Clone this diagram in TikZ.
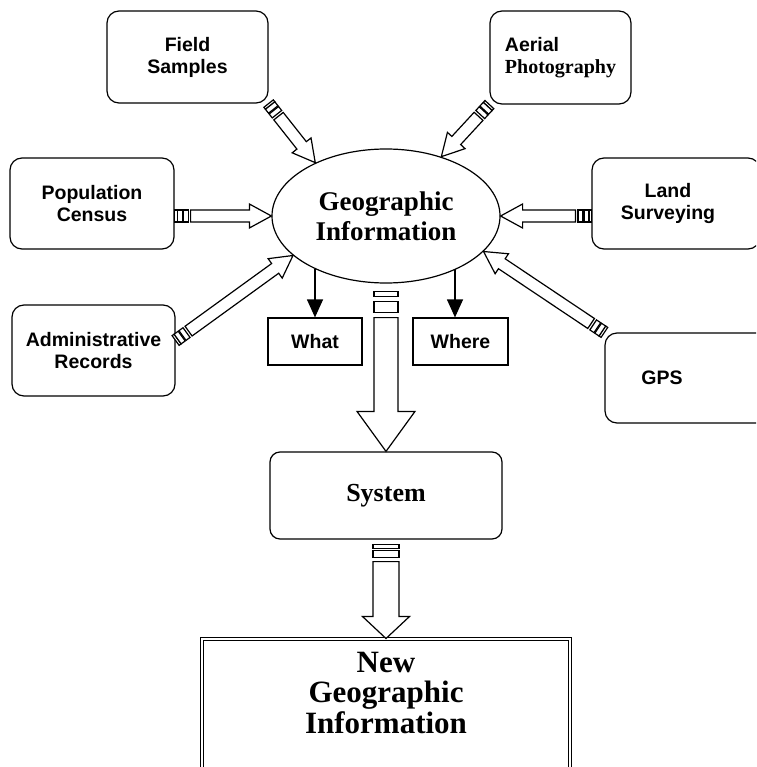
\documentclass[tikz,border=0pt]{standalone}
\usepackage{fontspec}
\setmainfont{Liberation Serif}
\newfontfamily\labelsans{Liberation Sans}
\usetikzlibrary{shapes.geometric,arrows.meta,calc}

% Hollow block arrow from #1 to #2:
% #3 shaft half width, #4 head half width, #5 head length,
% #6 tail stripes (start/end pairs), #7 where the shaft begins
\newcommand\blockarrow[7]{%
  \path let \p1=(#1), \p2=(#2) in \pgfextra{%
    \pgfmathsetmacro\baAngle{atan2(\y2-\y1,\x2-\x1)}%
    \pgfmathsetmacro\baLength{veclen(\x2-\x1,\y2-\y1)}%
    \xdef\baAngleG{\baAngle}\xdef\baLengthG{\baLength}};
  \pgfmathsetmacro\baBase{\baLengthG-#5}%
  \begin{scope}[shift={(#1)}, rotate=\baAngleG]
    \draw[blockline] (#7pt,-#3pt) -- (\baBase pt,-#3pt) -- (\baBase pt,-#4pt)
      -- (\baLengthG pt,0pt) -- (\baBase pt,#4pt) -- (\baBase pt,#3pt)
      -- (#7pt,#3pt) -- cycle;
    \foreach \a/\b in {#6} \draw[blockline] (\a pt,-#3pt) rectangle (\b pt,#3pt);
  \end{scope}}

\tikzset{
  sansfont/.style={font=\labelsans\bfseries\fontsize{19.5}{22}\selectfont},
  srcbox/.style={draw, rounded corners=12pt, inner sep=0pt, align=center, sansfont},
  tagbox/.style={draw, inner sep=0pt, sansfont},
  hub/.style={draw, ellipse, inner sep=0pt, align=center,
    font=\bfseries\fontsize{27}{30}\selectfont},
  sysbox/.style={draw, rounded corners=10pt, inner sep=0pt,
    font=\bfseries\fontsize{26}{30}\selectfont},
  outbox/.style={draw, double, double distance=2pt, inner sep=0pt},
  blockline/.style={draw, fill=white, line join=miter},
  pointer/.style={-{Triangle[length=18pt,width=16pt]}},
}

\begin{document}
\begin{tikzpicture}[x=1pt, y=-1pt, line width=1.2pt]
\useasboundingbox (0,0) rectangle (756,767);
\clip (0,0) rectangle (756,767);
\fill[white] (0,0) rectangle (756,767);

% central ellipse
\node[hub, minimum width=228pt, minimum height=134pt] (ell) at (386,216) {Geographic\\Information};

% data sources
\node[srcbox, minimum width=161pt, minimum height=92pt] (fs) at (187.5,57) {Field\\Samples};
\node[srcbox, align=left, minimum width=141pt, minimum height=93pt] (ap) at (560.5,57.5)
  {Aerial\\{\normalfont\bfseries\fontsize{20}{22}\selectfont Photography}};
\node[srcbox, minimum width=164pt, minimum height=91pt] (pc) at (92,203.5) {Population\\Census};
\node[srcbox, minimum width=168pt, minimum height=91pt,
  label={[sansfont, align=center, inner sep=0pt, xshift=-8pt]center:Land\\Surveying}] (ls) at (676,203.5) {};
\node[srcbox, minimum width=163pt, minimum height=91pt] (ar) at (93.5,350.5) {Administrative\\Records};
\node[srcbox, minimum width=165pt, minimum height=90pt,
  label={[sansfont, inner sep=0pt, xshift=-25.5pt]center:GPS}] (gps) at (687.5,378) {};

% what / where
\node[tagbox, minimum width=94pt, minimum height=47pt] (what) at (315,341.5) {What};
\node[tagbox, minimum width=95pt, minimum height=47pt] (where) at (460.5,341.5) {Where};

% system and result
\node[sysbox, minimum width=232pt, minimum height=87pt] (sys) at (386,495.5) {System};
\node[outbox, minimum width=368pt, minimum height=180pt, anchor=north,
  label={[anchor=north, inner sep=0pt, yshift=-13pt, align=center,
    font=\bfseries\fontsize{31}{30.5}\selectfont]north:New\\Geographic\\Information}]
  (out) at (386,638.5) {};

% arrow end points
\coordinate (pctail) at ($(pc.east)+(0,12.5)$);
\coordinate (lstail) at ($(ls.west)+(0,12.5)$);
\coordinate (artail) at ($(ar.east)+(0,-10)$);
\coordinate (hubtail) at ($(ell.south)+(0,8)$);
\coordinate (systail) at ($(sys.south)+(0,5)$);
\coordinate (wt) at (315,268.5);
\coordinate (wh) at (455,269);

% inputs into the ellipse
\blockarrow{fs.south east}{ell.143}{6}{12}{22}{0/2.5,2.5/7.5,8.5/13.5}{16}
\blockarrow{ap.south west}{ell.47}{6}{12}{22}{0/2.5,2.5/7.5,8.5/13.5}{16}
\blockarrow{pctail}{ell.west}{6}{12}{22}{0/2.5,2.5/7.5,8.5/13.5}{16}
\blockarrow{lstail}{ell.east}{6}{12}{22}{0/2.5,2.5/7.5,8.5/13.5}{16}
\blockarrow{artail}{ell.203}{6}{12}{22}{0/2.5,2.5/7.5,8.5/13.5}{16}
\blockarrow{gps.north west}{ell.-20}{6}{12}{22}{0/2.5,2.5/7.5,8.5/13.5}{16}

% outputs
\blockarrow{hubtail}{sys.north}{12}{29}{40}{0/5,10/21}{26}
\blockarrow{systail}{out.north}{13}{23.5}{22}{0/4,6/13}{17}

\draw[pointer] (wt) -- (what.north);
\draw[pointer] (wh) -- (wh |- where.north);
\end{tikzpicture}
\end{document}
